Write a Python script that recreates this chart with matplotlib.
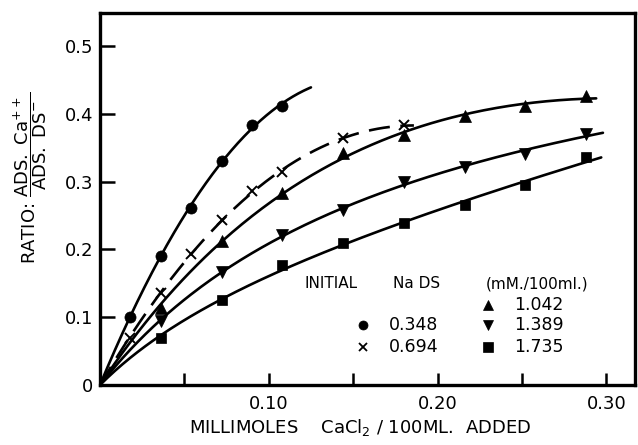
import matplotlib
matplotlib.use("Agg")
import matplotlib.pyplot as plt
import numpy as np

plt.rcParams["font.family"] = "DejaVu Sans"
plt.rcParams["mathtext.fontset"] = "dejavusans"

# CaCl2 added (millimoles / 100 ml) and adsorption ratio
x_circle = [0.018, 0.036, 0.054, 0.072, 0.090, 0.108]
y_circle = [0.101, 0.190, 0.261, 0.331, 0.384, 0.412]

x_cross = [0.018, 0.036, 0.054, 0.072, 0.090, 0.108, 0.144, 0.180]
y_cross = [0.070, 0.136, 0.193, 0.244, 0.286, 0.315, 0.364, 0.383]

x_up = [0.036, 0.072, 0.108, 0.144, 0.180, 0.216, 0.252, 0.288]
y_up = [0.113, 0.212, 0.284, 0.342, 0.369, 0.397, 0.412, 0.426]

x_down = [0.036, 0.072, 0.108, 0.144, 0.180, 0.216, 0.252, 0.288]
y_down = [0.094, 0.167, 0.222, 0.258, 0.300, 0.322, 0.341, 0.371]

x_square = [0.036, 0.072, 0.108, 0.144, 0.180, 0.216, 0.252, 0.288]
y_square = [0.069, 0.126, 0.177, 0.209, 0.239, 0.266, 0.295, 0.336]

# where each hand-drawn curve stops
curve_end = {"circle": 0.125, "cross": 0.186, "up": 0.294, "down": 0.298, "square": 0.297}

labels_nads = ["0.348", "0.694", "1.042", "1.389", "1.735"]


def smooth(xs, ys, x_stop):
    """Concave curve through the origin: y = a*x/(1+b*x) + c*x, least squares."""
    xs = np.asarray(xs)
    ys = np.asarray(ys)
    best = None
    for b in np.linspace(0, 80, 801):
        A = np.column_stack([xs / (1 + b * xs), xs])
        coef, *_ = np.linalg.lstsq(A, ys, rcond=None)
        err = np.sum((A @ coef - ys) ** 2)
        if best is None or err < best[0]:
            best = (err, b, coef)
    _, b, (a, c) = best
    xx = np.linspace(0, x_stop, 200)
    return xx, a * xx / (1 + b * xx) + c * xx


fig = plt.figure(figsize=(6.38, 4.45), dpi=100)
ax = fig.add_axes([100 / 638, 60 / 445, 535 / 638, 372 / 445])

lw = 1.9
series = [
    ("circle", x_circle, y_circle, "o", 8, "-"),
    ("cross", x_cross, y_cross, "x", 7, (0, (8, 4))),
    ("up", x_up, y_up, "^", 8, "-"),
    ("down", x_down, y_down, "v", 8, "-"),
    ("square", x_square, y_square, "s", 7, "-"),
]
for name, xs, ys, mk, ms, ls in series:
    xx, yy = smooth(xs, ys, curve_end[name])
    ax.plot(xx, yy, color="black", lw=lw, ls=ls, solid_capstyle="round")
    ax.plot(xs, ys, ls="none", marker=mk, ms=ms, color="black",
            mew=1.4 if mk == "x" else 0.5)

ax.set_xlim(0, 0.317)
ax.set_ylim(0, 0.549)

ax.set_xticks([0, 0.05, 0.10, 0.15, 0.20, 0.25, 0.30])
ax.set_xticklabels(["", "", "0.10", "", "0.20", "", "0.30"])
ax.set_yticks([0, 0.1, 0.2, 0.3, 0.4, 0.5])
ax.set_yticklabels(["0", "0.1", "0.2", "0.3", "0.4", "0.5"])
ax.tick_params(axis="x", direction="in", length=9, width=1.8, labelsize=13, pad=7)
ax.tick_params(axis="y", direction="in", length=11, width=1.8, labelsize=13, pad=5)
for sp in ax.spines.values():
    sp.set_linewidth(2.4)

fig.text(360 / 638, 1 - 427 / 445, "MILLIMOLES    CaCl$_2$ / 100ML.  ADDED",
         ha="center", va="center", fontsize=13)
fig.text(30 / 638, 1 - 178 / 445,
         r"RATIO: $\dfrac{\mathrm{ADS.\ Ca^{++}}}{\mathrm{ADS.\ DS^{-}}}$",
         ha="center", va="center", rotation=90, fontsize=13)

# legend block drawn as text, as in the original
tx = ax.transAxes
def axpos(px, py):
    return ((px - 100) / 535, (385 - py) / 372)

head_kw = dict(fontsize=11, va="center", transform=tx)
ax.text(*axpos(305, 284), "INITIAL", ha="left", **head_kw)
ax.text(*axpos(393, 284), "Na DS", ha="left", **head_kw)
ax.text(*axpos(486, 284), "(mM./100ml.)", ha="left", **head_kw)

rows = [
    (363, 325, "o", labels_nads[0]),
    (363, 347, "x", labels_nads[1]),
    (488, 305, "^", labels_nads[2]),
    (488, 325, "v", labels_nads[3]),
    (488, 347, "s", labels_nads[4]),
]
for mx, my, mk, lab in rows:
    ax.plot(*axpos(mx, my), marker=mk, ms=6.5 if mk != "x" else 5.5, color="black",
            mew=1.3 if mk == "x" else 0.5, transform=tx, clip_on=False)
    ax.text(*axpos(mx + 26, my), lab, ha="left", va="center", fontsize=12.5,
            transform=tx)

fig.savefig("out.png", dpi=100, facecolor="white")
